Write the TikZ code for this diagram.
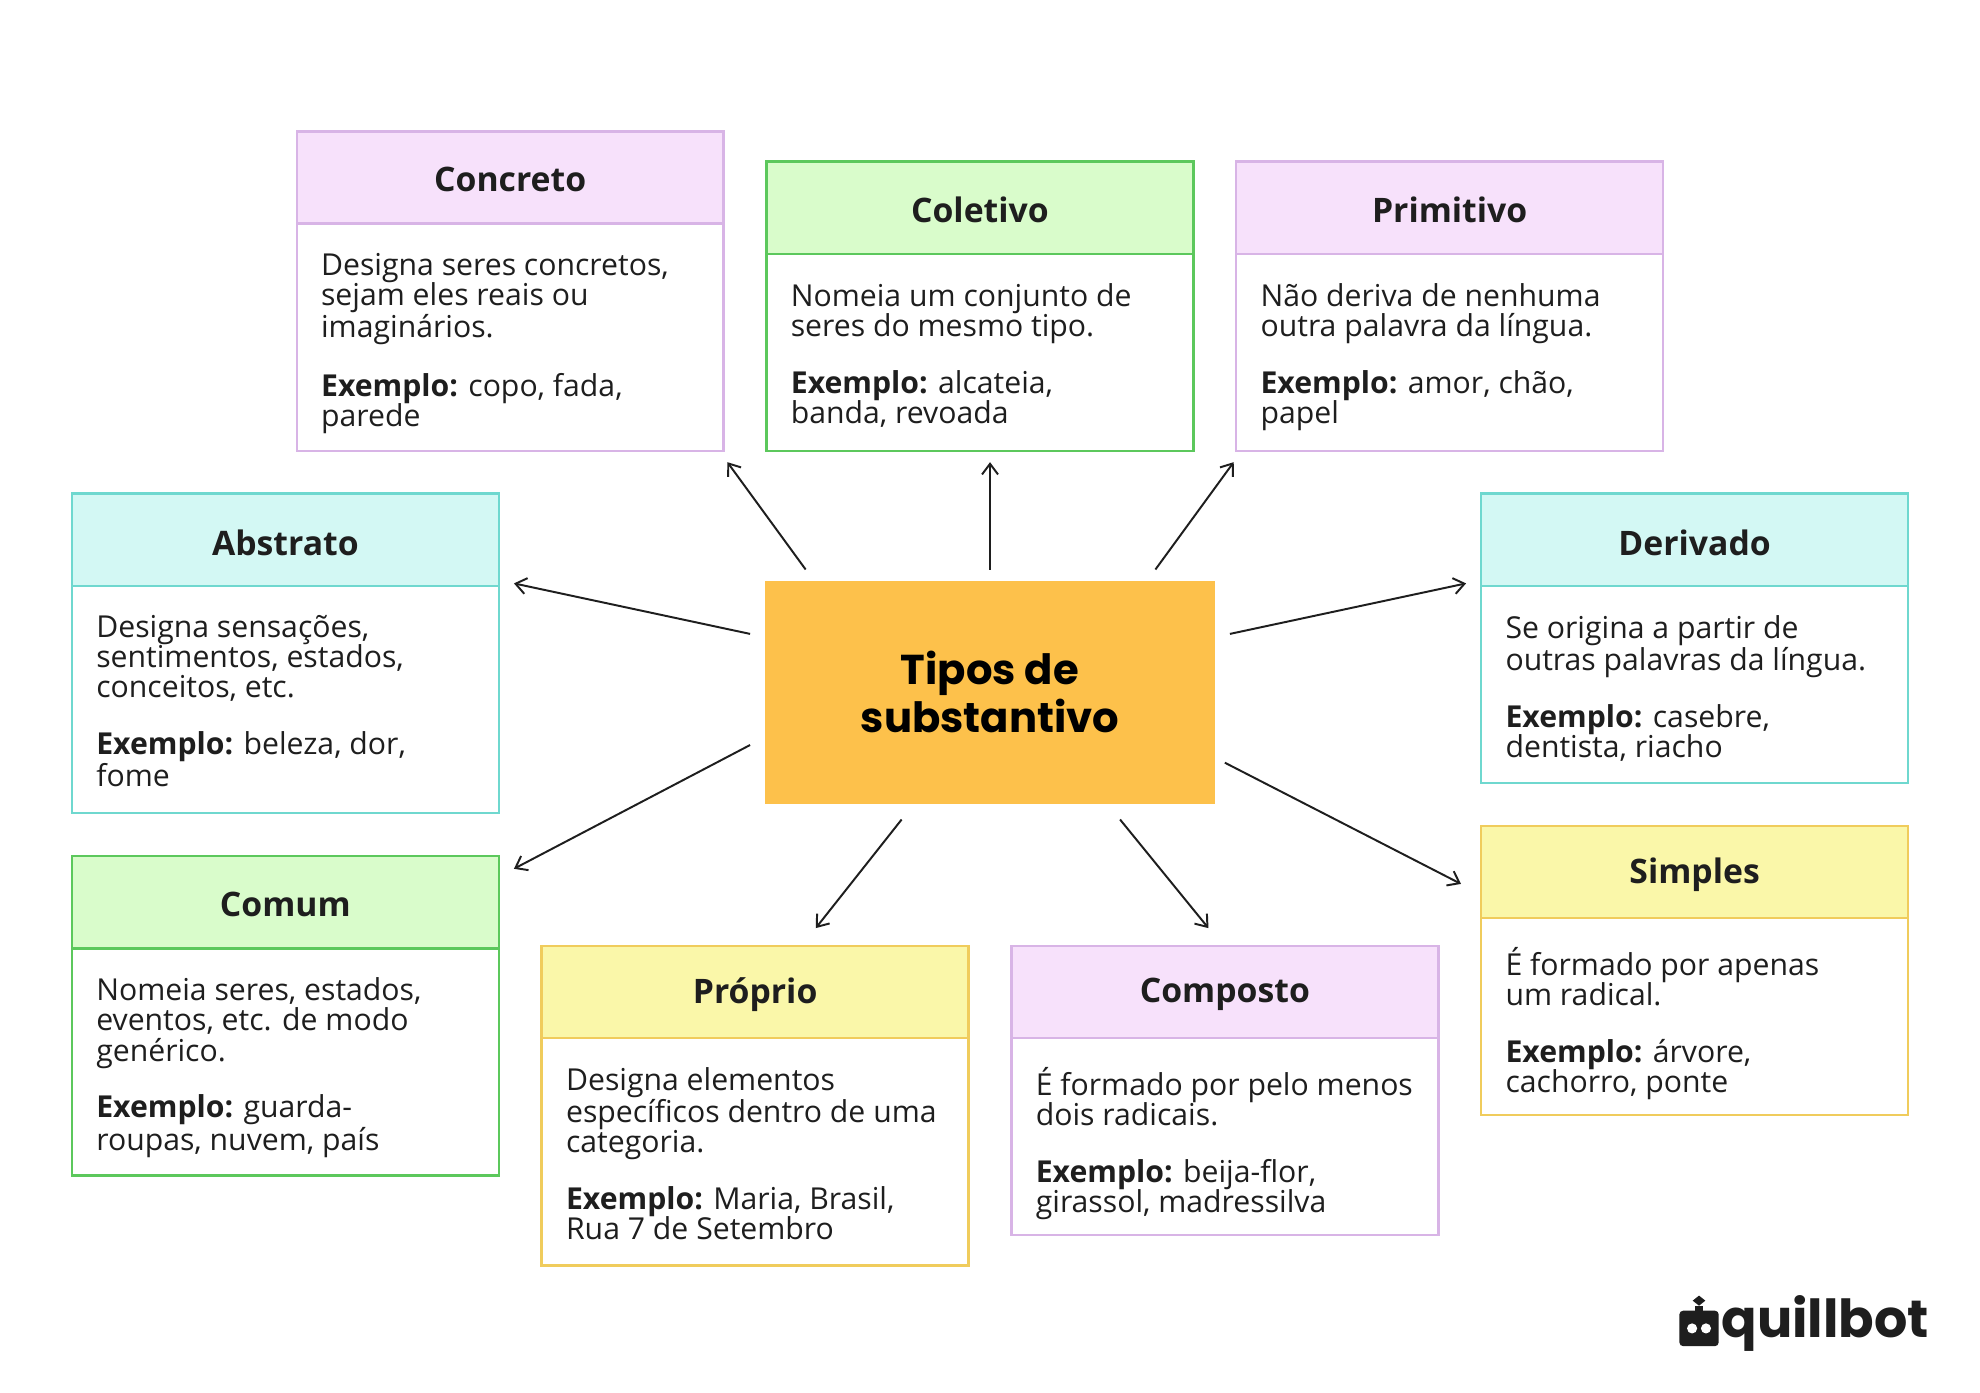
\documentclass[tikz,border=0pt]{standalone}
\usepackage{fontspec}
\usetikzlibrary{arrows.meta}
\setmainfont{Open Sans}
\newfontfamily\titlefont{Poppins}
\definecolor{inkdark}{HTML}{1E1E1E}
\definecolor{pinkfill}{HTML}{F7E1FB}\definecolor{pinkline}{HTML}{D8B4E6}
\definecolor{greenfill}{HTML}{D9FCCB}\definecolor{greenline}{HTML}{5CC85C}
\definecolor{cyanfill}{HTML}{D3F8F4}\definecolor{cyanline}{HTML}{6FD8CF}
\definecolor{yellowfill}{HTML}{FAF7A9}\definecolor{yellowline}{HTML}{F0CC5C}
\definecolor{centerfill}{HTML}{FDC14B}
\tikzset{
  boxtitle/.style={font=\bfseries\fontsize{19}{22}\selectfont,text=inkdark},
  boxtext/.style={font=\fontsize{17}{17}\selectfont,text=inkdark,align=left,anchor=north west,inner sep=0pt},
  link/.style={-{Straight Barb[length=6pt,width=9pt]},line width=1.1pt,inkdark}
}
% name, x1, y1, x2, y2, header bottom, colour, title, text
\newcommand{\typebox}[9]{
  \draw[#7line,line width=1.4pt,fill=white] (#2,#3) rectangle (#4,#5);
  \draw[#7line,line width=1.4pt,fill=#7fill] (#2,#3) rectangle (#4,#6);
  \node[boxtitle] (#1) at ({(#2+#4)/2},{(#3+#6)/2+2}) {#8};
  \node[boxtext] (#1-text) at (#2+19,#6+23) {#9};
}
\begin{document}
\begin{tikzpicture}[x=0.025cm,y=-0.025cm]
\useasboundingbox (0,0) rectangle (1568,1103);
\fill[white] (0,0) rectangle (1568,1103);

\typebox{concreto}{235}{104}{573}{357}{177}{pink}{Concreto}{Designa seres concretos,\\sejam eles reais ou\\imaginários.\\[15pt]\textbf{Exemplo:} copo, fada,\\parede}
\typebox{coletivo}{607}{128}{945}{357}{201}{green}{Coletivo}{Nomeia um conjunto de\\seres do mesmo tipo.\\[15pt]\textbf{Exemplo:} alcateia,\\banda, revoada}
\typebox{primitivo}{979}{128}{1317}{357}{201}{pink}{Primitivo}{Não deriva de nenhuma\\outra palavra da língua.\\[15pt]\textbf{Exemplo:} amor, chão,\\papel}
\typebox{abstrato}{57}{391}{395}{644}{464}{cyan}{Abstrato}{Designa sensações,\\sentimentos, estados,\\conceitos, etc.\\[15pt]\textbf{Exemplo:} beleza, dor,\\fome}
\typebox{derivado}{1173}{391}{1511}{620}{464}{cyan}{Derivado}{Se origina a partir de\\outras palavras da língua.\\[15pt]\textbf{Exemplo:} casebre,\\dentista, riacho}
\typebox{comum}{57}{678}{395}{931}{751}{green}{Comum}{Nomeia seres, estados,\\eventos, etc. de modo\\genérico.\\[15pt]\textbf{Exemplo:} guarda-\\roupas, nuvem, país}
\typebox{simples}{1173}{654}{1511}{883}{727}{yellow}{Simples}{É formado por apenas\\um radical.\\[15pt]\textbf{Exemplo:} árvore,\\cachorro, ponte}
\typebox{proprio}{429}{749}{767}{1002}{822}{yellow}{Próprio}{Designa elementos\\específicos dentro de uma\\categoria.\\[15pt]\textbf{Exemplo:} Maria, Brasil,\\Rua 7 de Setembro}
\typebox{composto}{801}{749}{1139}{978}{822}{pink}{Composto}{É formado por pelo menos\\dois radicais.\\[15pt]\textbf{Exemplo:} beija-flor,\\girassol, madressilva}

% centre
\fill[centerfill] (606,460) rectangle (962,637);
\node[font=\titlefont\bfseries\fontsize{23.5}{27}\selectfont,align=center,text=black] (tipos) at (784,548) {Tipos de\\substantivo};

% arrows
\foreach \name/\sx/\sy/\ex/\ey in {concreto/638/451/576/366, coletivo/784/451/784/366, primitivo/915/451/977/366,
  abstrato/594/502/407/462, derivado/974/502/1161/462, comum/594/590/407/688,
  simples/970/604/1157/700, proprio/714/649/646/735, composto/887/649/957/735}{
  \coordinate (\name-from) at (\sx,\sy);
  \coordinate (\name-to) at (\ex,\ey);
  \draw[link] (\name-from) -- (\name-to);
}

% logo
\fill[inkdark,rounded corners=2pt] (1330,1038) rectangle (1361,1066);
\fill[white] (1340,1052) circle (4);
\fill[white] (1351,1052) circle (4);
\fill[inkdark] (1345.5,1026) -- (1350.5,1030) -- (1345.5,1034) -- (1340.5,1030) -- cycle;
\fill[inkdark] (1342.5,1034) rectangle (1348.5,1038);
\node[font=\titlefont\bfseries\fontsize{29.5}{32}\selectfont,text=inkdark,anchor=west,inner sep=0pt] (logo) at (1363,1048) {quillbot};
\end{tikzpicture}
\end{document}
